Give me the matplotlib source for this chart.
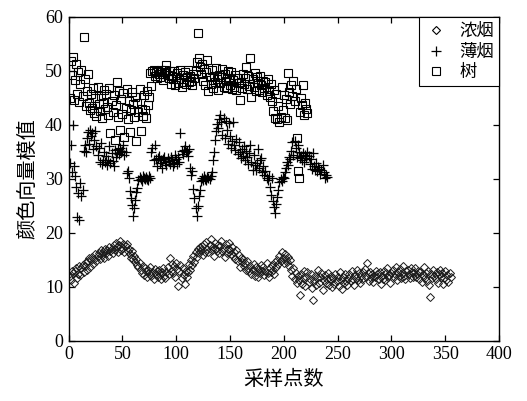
import numpy as np
import matplotlib
matplotlib.use("Agg")
import matplotlib.pyplot as plt
from matplotlib.lines import Line2D

# ---------------- data ----------------
series_names = ["浓烟", "薄烟", "树"]

dense_smoke = [
    12.1, 11.3, 13.0, 12.6, 10.8, 12.9, 13.4, 11.7, 12.4, 13.8, 12.2, 13.5, 14.1, 12.8, 13.9, 14.6, 13.2, 14.8, 15.3, 13.7,
    14.9, 15.6, 14.3, 15.1, 16.0, 14.7, 15.8, 16.3, 15.2, 16.8, 15.9, 16.5, 15.4, 17.0, 16.2, 16.9, 15.7, 17.4, 16.6, 17.1,
    16.3, 17.8, 16.9, 18.2, 17.3, 16.4, 17.7, 18.5, 16.8, 17.2, 17.9, 16.5, 17.5, 18.0, 16.7, 17.1, 16.0, 15.4, 16.6, 15.1,
    15.8, 14.6, 15.2, 14.1, 13.6, 14.4, 13.1, 12.6, 13.8, 12.2, 13.4, 12.9, 11.8, 13.2, 12.5, 13.7, 12.0, 12.8, 11.5, 13.3,
    12.4, 12.9, 11.9, 13.1, 12.3, 11.4, 12.7, 13.5, 12.1, 11.7, 12.8, 13.6, 12.4, 15.4, 13.0, 14.2, 12.6, 13.9, 11.8, 14.5,
    13.3, 10.2, 12.9, 14.0, 11.6, 13.5, 12.2, 10.6, 13.0, 11.9, 12.7, 14.3, 13.2, 15.0, 14.1, 15.8, 14.6, 16.4, 15.5, 17.0,
    16.2, 17.3, 16.8, 17.6, 15.9, 17.9, 16.5, 18.3, 17.1, 16.4, 17.7, 18.8, 16.9, 17.4, 15.8, 18.1, 17.0, 16.6, 17.8, 16.2,
    17.5, 18.4, 16.7, 17.2, 15.6, 17.9, 16.3, 17.0, 18.2, 16.8, 16.1, 17.3, 15.7, 16.5, 15.2, 16.9, 14.8, 15.9, 13.6, 15.4,
    14.6, 15.1, 13.9, 14.4, 13.2, 14.7, 13.5, 12.9, 13.8, 12.4, 13.1, 14.3, 12.0, 13.6, 12.7, 11.8, 13.3, 12.5, 14.1, 12.9,
    13.7, 12.2, 13.0, 14.5, 12.6, 11.9, 13.4, 12.8, 14.0, 13.2, 12.4, 14.6, 13.6, 15.0, 14.2, 15.7, 14.8, 16.5, 15.3, 14.4,
    16.0, 15.1, 14.6, 15.6, 13.8, 14.9, 13.2, 12.1, 13.5, 11.4, 12.6, 10.8, 12.0, 11.3, 8.5, 12.4, 10.6, 11.7, 13.0, 10.2,
    11.9, 12.7, 10.9, 11.5, 12.3, 9.8, 7.6, 11.1, 12.0, 10.4, 11.6, 13.2, 10.7, 11.8, 12.5, 9.5, 11.2, 12.2, 10.8, 11.5,
    12.6, 10.3, 11.4, 12.1, 9.9, 11.7, 10.5, 12.3, 11.0, 11.8, 10.1, 12.8, 11.3, 9.6, 11.9, 10.7, 12.4, 11.1, 10.4, 11.6,
    12.3, 11.0, 12.9, 11.5, 10.3, 12.2, 11.7, 13.1, 11.2, 12.6, 10.8, 12.0, 11.4, 12.7, 13.3, 11.9, 14.4, 12.5, 11.1, 12.8,
    11.6, 12.4, 10.9, 12.1, 11.8, 13.0, 12.3, 11.4, 12.7, 10.6, 12.0, 11.5, 12.9, 11.2, 12.5, 13.4, 11.9, 12.2, 10.7, 12.6,
    13.1, 11.8, 12.4, 13.6, 11.3, 12.8, 12.1, 13.3, 11.7, 12.5, 13.8, 12.0, 11.4, 12.9, 13.2, 12.3, 11.6, 13.5, 12.7, 11.9,
    12.6, 13.4, 11.8, 12.3, 13.0, 11.5, 12.8, 10.9, 12.2, 13.6, 11.7, 12.5, 11.1, 12.9, 10.4, 8.1, 12.3, 11.6, 13.2, 12.0,
    11.4, 12.7, 10.8, 12.4, 13.1, 11.9, 12.6, 10.6, 11.7, 12.9, 11.3, 12.2, 10.9, 12.5, 11.8,
]

thin_smoke = [
    33.0, 36.3, 31.2, 40.0, 32.4, 30.6, 28.5, 22.9, 27.4, 22.3, 29.2, 26.8, 28.0, 35.1, 36.2, 34.9, 37.6, 38.7, 36.4, 39.0,
    37.9, 38.4, 35.6, 37.2, 38.8, 36.1, 34.5, 35.8, 33.2, 36.6, 32.8, 33.5, 35.0, 33.1, 34.2, 32.6, 33.4, 36.0, 33.0, 34.7,
    33.3, 32.4, 35.3, 34.0, 34.8, 35.5, 34.6, 35.7, 34.9, 35.2, 36.3, 34.5, 35.0, 31.0, 31.5, 30.2, 27.8, 26.4, 25.2, 23.1,
    24.6, 26.0, 27.5, 28.3, 29.8, 30.3, 30.0, 29.6, 30.5, 30.1, 29.9, 30.4, 30.0, 29.7, 30.6, 30.2, 35.0, 35.8, 33.5, 36.2,
    33.6, 32.4, 33.8, 34.2, 32.9, 33.4, 32.1, 33.7, 34.0, 33.2, 32.6, 33.9, 33.3, 32.8, 34.1, 33.5, 32.3, 33.0, 34.4, 33.6,
    32.7, 34.0, 33.2, 38.5, 35.1, 34.6, 35.4, 36.0, 34.9, 35.2, 34.3, 35.6, 32.0, 30.8, 31.5, 28.2, 26.5, 24.6, 23.2, 25.0,
    26.8, 28.0, 29.6, 30.2, 29.8, 30.5, 30.0, 29.7, 30.3, 30.1, 29.9, 30.6, 31.2, 33.5, 35.0, 37.2, 38.8, 40.2, 39.5, 41.0,
    41.8, 40.5, 38.2, 41.2, 37.6, 40.8, 39.0, 36.5, 40.4, 38.0, 35.8, 37.0, 40.6, 36.2, 35.4, 37.4, 34.6, 36.8, 35.0, 33.9,
    35.6, 34.2, 36.1, 33.5, 35.2, 34.0, 32.8, 34.7, 36.3, 33.1, 31.6, 34.4, 32.5, 31.7, 33.0, 35.5, 32.1, 33.5, 33.8, 31.2,
    32.4, 30.8, 31.5, 30.2, 29.8, 30.5, 28.4, 27.0, 30.1, 25.9, 24.8, 23.7, 25.3, 26.6, 27.9, 29.4, 30.0, 29.6, 30.3, 30.1,
    31.2, 32.0, 33.1, 32.5, 34.0, 33.6, 35.2, 36.8, 34.5, 37.0, 35.8, 34.1, 36.2, 35.0, 33.8, 34.2, 33.5, 34.8, 33.1, 34.5,
    33.9, 35.0, 34.3, 32.8, 33.6, 31.9, 34.8, 32.4, 31.7, 33.0, 31.5, 32.2, 31.8, 30.9, 31.6, 32.5, 31.2, 30.2, 30.8, 30.4,
]

tree = [
    45.0, 51.8, 49.2, 52.5, 44.6, 48.3, 51.2, 45.8, 49.7, 44.2, 47.6, 50.1, 45.3, 56.3, 48.4, 43.5, 46.2, 49.5, 44.0, 42.8,
    45.7, 43.1, 46.8, 42.2, 44.9, 41.6, 47.0, 43.8, 42.5, 45.4, 41.2, 44.1, 46.5, 42.9, 45.8, 43.3, 41.8, 46.9, 38.5, 44.4,
    42.3, 45.6, 37.2, 43.7, 48.0, 41.5, 46.3, 39.0, 44.8, 42.0, 45.9, 37.8, 43.2, 46.6, 41.1, 44.5, 38.6, 42.7, 46.1, 43.9,
    41.4, 45.2, 37.0, 44.0, 42.4, 46.7, 38.9, 43.0, 41.7, 45.5, 42.8, 41.3, 46.2, 43.6, 45.1, 49.6, 47.2, 49.9, 50.2, 49.1,
    49.8, 48.6, 50.0, 49.4, 48.9, 50.1, 49.5, 48.3, 49.7, 50.2, 51.0, 49.2, 48.7, 49.9, 47.6, 49.0, 48.4, 50.0, 47.3, 48.8,
    49.6, 47.8, 48.5, 50.1, 47.1, 49.3, 48.0, 49.8, 47.5, 48.9, 50.2, 47.9, 49.1, 48.2, 47.4, 49.5, 48.6, 50.0, 51.6, 57.0,
    52.3, 50.8, 49.4, 51.2, 48.1, 50.4, 47.3, 49.7, 52.0, 46.2, 48.8, 47.6, 50.1, 46.8, 49.0, 47.9, 50.5, 48.4, 46.5, 49.2,
    47.7, 48.9, 50.3, 47.1, 49.5, 48.2, 46.9, 50.0, 48.6, 47.4, 49.8, 46.6, 48.3, 47.0, 49.3, 46.4, 48.7, 47.8, 44.6, 48.0,
    46.9, 49.4, 47.5, 48.6, 50.7, 46.7, 49.1, 47.2, 52.4, 45.2, 48.4, 47.0, 49.6, 46.3, 48.9, 47.7, 46.5, 49.0, 47.3, 46.0,
    48.2, 46.8, 47.9, 45.5, 48.5, 46.2, 45.1, 47.6, 44.4, 42.5, 46.4, 41.2, 45.8, 41.0, 43.4, 40.6, 41.5, 47.1, 42.8, 45.6,
    41.3, 44.8, 40.9, 49.6, 46.0, 43.9, 47.4, 45.3, 48.1, 44.5, 46.7, 37.6, 31.4, 30.2, 42.3, 45.0, 43.6, 47.3, 41.8, 44.1,
    43.0, 42.2,
]

x_ticks = [0, 50, 100, 150, 200, 250, 300, 350, 400]
y_ticks = [0, 10, 20, 30, 40, 50, 60]
x_label = "采样点数"
y_label = "颜色向量模值"

# ---------------- plot ----------------
cjk = ["Noto Sans CJK SC", "DejaVu Sans"]
num_font = ["Liberation Serif", "DejaVu Serif"]

fig = plt.figure(figsize=(5.27, 4.01), dpi=100)
ax = fig.add_axes([0.130, 0.150, 0.817, 0.808])

x1 = np.arange(1, len(dense_smoke) + 1)
x2 = np.arange(1, len(thin_smoke) + 1)
x3 = np.arange(1, len(tree) + 1)

ax.plot(x3, tree, linestyle="none", marker="s", markersize=6.4,
        markerfacecolor="none", markeredgecolor="black", markeredgewidth=0.8)
ax.plot(x2, thin_smoke, linestyle="none", marker="+", markersize=7.5,
        color="black", markeredgewidth=0.9)
ax.plot(x1, dense_smoke, linestyle="none", marker="D", markersize=4.0,
        markerfacecolor="none", markeredgecolor="#1a1a1a", markeredgewidth=0.7)

ax.set_xlim(0, 400)
ax.set_ylim(0, 60)
ax.set_xticks(x_ticks)
ax.set_yticks(y_ticks)
ax.set_xticklabels([str(v) for v in x_ticks], family=num_font, fontsize=13)
ax.set_yticklabels([str(v) for v in y_ticks], family=num_font, fontsize=13)
ax.tick_params(direction="in", length=4, width=0.9, top=True, right=True, pad=4)
for s in ax.spines.values():
    s.set_linewidth(1.0)

ax.set_xlabel(x_label, family=cjk, fontsize=14.5, labelpad=4)
ax.set_ylabel(y_label, family=cjk, fontsize=14.5, labelpad=5)

handles = [
    Line2D([], [], linestyle="none", marker="D", markersize=4.0, markerfacecolor="none",
           markeredgecolor="black", markeredgewidth=0.8),
    Line2D([], [], linestyle="none", marker="+", markersize=7.5, color="black", markeredgewidth=0.9),
    Line2D([], [], linestyle="none", marker="s", markersize=6.2, markerfacecolor="none",
           markeredgecolor="black", markeredgewidth=0.8),
]
leg = ax.legend(handles, series_names, loc="upper right", borderaxespad=0.0,
                prop={"family": cjk, "size": 12.5}, frameon=True, fancybox=False,
                edgecolor="black", framealpha=1, handlelength=1.3, handletextpad=0.7,
                labelspacing=0.15, borderpad=0.3)
leg.get_frame().set_linewidth(0.8)

fig.savefig("out.png", dpi=100)
